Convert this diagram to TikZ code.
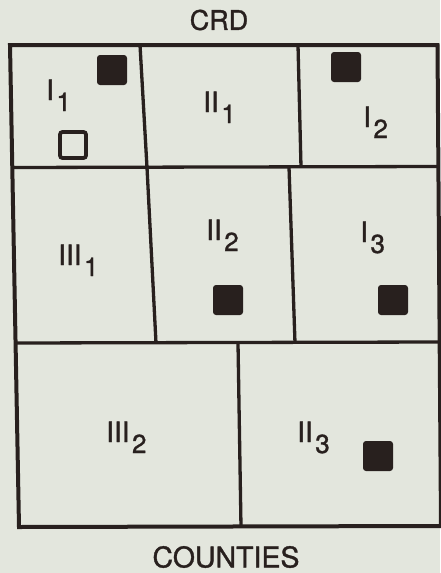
\documentclass[tikz,border=0pt]{standalone}
\usepackage{fontspec}
\setmainfont{TeX Gyre Heros}[FakeBold=1.2]
\definecolor{paper}{RGB}{227,230,221}
\definecolor{ink}{RGB}{40,32,30}
\newcommand\lowsub[1]{\kern2.5pt\raisebox{-11pt}{\fontsize{26}{26}\selectfont #1}}
\tikzset{
  frame/.style={draw=ink,line width=4pt,line join=miter},
  divider/.style={draw=ink,line width=3.3pt},
  lab/.style={anchor=base west,inner sep=0pt,text=ink,font=\fontsize{28}{28}\selectfont},
  title/.style={inner sep=0pt,text=ink,font=\fontsize{27}{27}\selectfont},
  fullsq/.style={fill=ink,draw=none,minimum size=30pt,rounded corners=3pt,inner sep=0pt},
  opensq/.style={draw=ink,line width=3.8pt,fill=none,minimum size=26pt,rounded corners=2.5pt,inner sep=0pt}
}
\begin{document}
\begin{tikzpicture}[x=1pt,y=-1pt]
\useasboundingbox (0,0) rectangle (440,573);
\fill[paper] (0,0) rectangle (440,573);
% frame corners
\coordinate (tl) at (10,45);
\coordinate (tr) at (437.5,45);
\coordinate (br) at (441,526);
\coordinate (bl) at (19,527);
% row lines
\coordinate (r1l) at (12.5,167.5);
\coordinate (r1r) at (438,166.5);
\coordinate (r2l) at (15.8,343);
\coordinate (r2r) at (439,342);
% dividers
\coordinate (a1) at (140,45);   \coordinate (a2) at (147,167.5);
\coordinate (b1) at (298,45);   \coordinate (b2) at (301,167);
\coordinate (c1) at (147,167.5);\coordinate (c2) at (156,343);
\coordinate (d1) at (289,167);  \coordinate (d2) at (295,343);
\coordinate (e1) at (238,343);  \coordinate (e2) at (241,527);
\draw[divider] (r1l) -- (r1r);
\draw[divider] (r2l) -- (r2r);
\draw[divider] (a1) -- (a2);
\draw[divider] (b1) -- (b2);
\draw[divider] (c1) -- (c2);
\draw[divider] (d1) -- (d2);
\draw[divider] (e1) -- (e2);
\draw[frame] (tl) -- (tr) -- (br) -- (bl) -- cycle;
% titles
\node[title] (crd) at (219,20) {CRD};
\node[title,font=\fontsize{28.5}{28.5}\selectfont] (counties) at (226,557) {COUNTIES};
% labels
\node[lab] (i1)   at (46,100)  {I\lowsub{1}};
\node[lab] (ii1)  at (203,112) {II\lowsub{1}};
\node[lab] (i2)   at (363,127) {I\lowsub{2}};
\node[lab] (iii1) at (58,265)  {III\lowsub{1}};
\node[lab] (ii2)  at (206,240) {II\lowsub{2}};
\node[lab] (i3)   at (360,242) {I\lowsub{3}};
\node[lab] (iii2) at (106,442) {III\lowsub{2}};
\node[lab] (ii3)  at (297,442) {II\lowsub{3}};
% squares
\node[fullsq] (s1) at (112,70) {};
\node[opensq] (s0) at (73,145) {};
\node[fullsq] (s2) at (346,67) {};
\node[fullsq] (s3) at (228,300) {};
\node[fullsq] (s4) at (393,300) {};
\node[fullsq] (s5) at (378,456) {};
\end{tikzpicture}
\end{document}
